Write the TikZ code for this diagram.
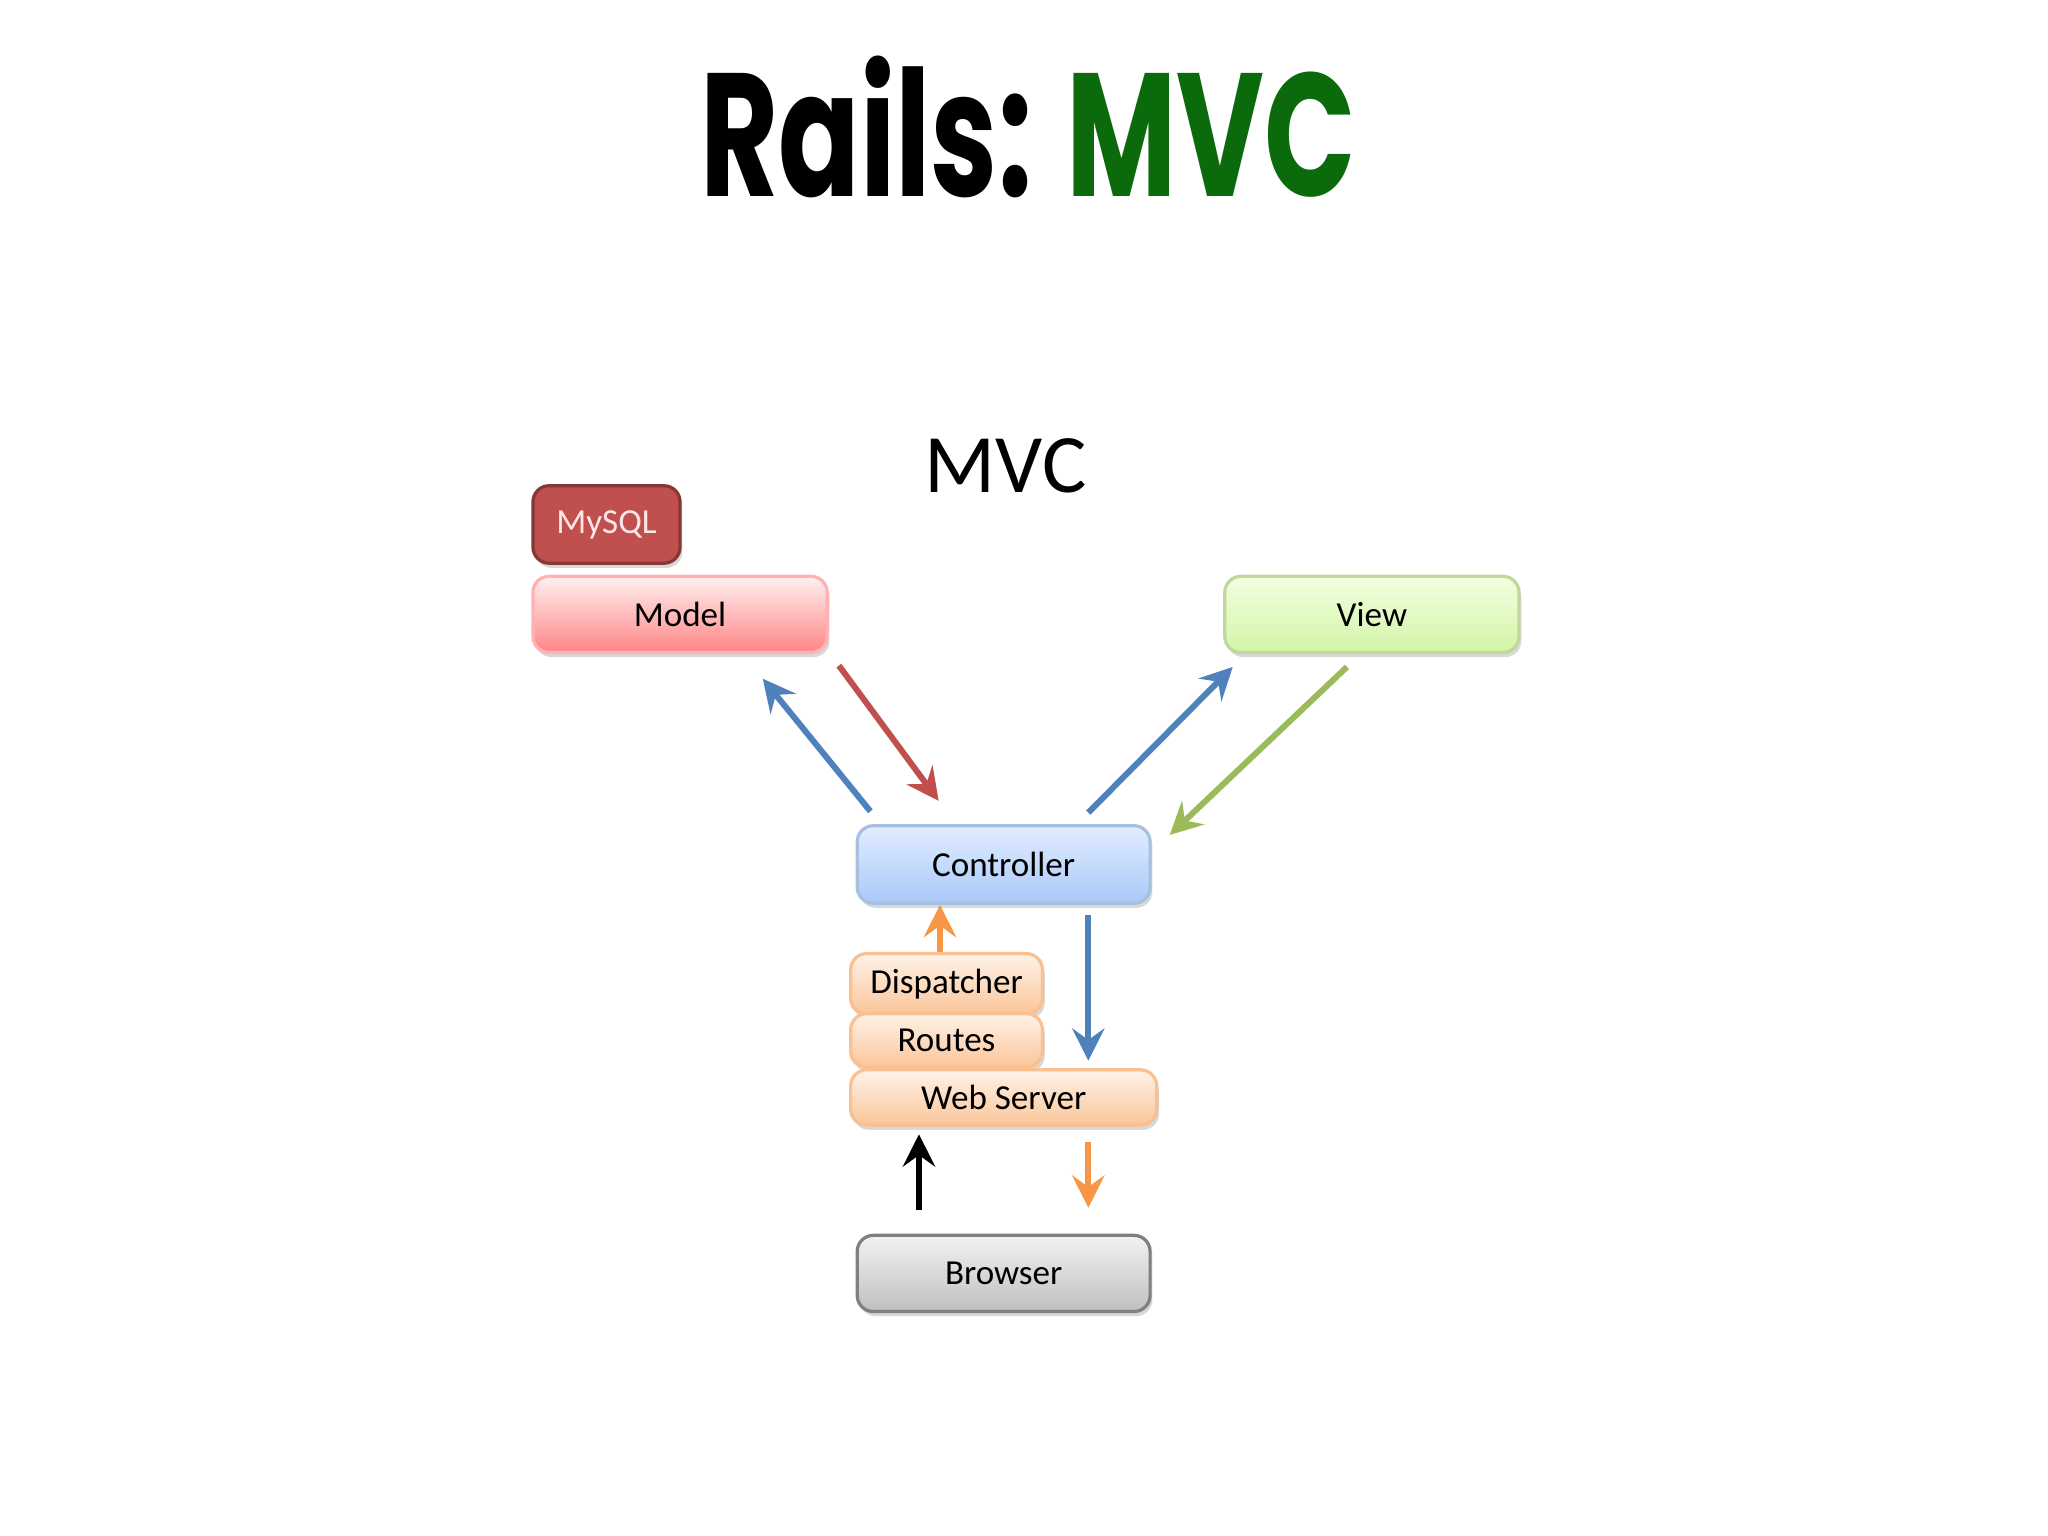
\documentclass[tikz,border=0pt]{standalone}
\usepackage{fontspec}
\setmainfont{Carlito}
\newfontfamily\titlefont{Poppins}
\usetikzlibrary{shadows,arrows.meta}
\definecolor{mysqlc}{HTML}{C0504D}
\definecolor{bluec}{HTML}{4F81BD}
\definecolor{greenc}{HTML}{9BBB59}
\definecolor{orangec}{HTML}{F79646}
\definecolor{viewtop}{HTML}{F2FFE0}
\definecolor{viewbot}{HTML}{D2F5A8}
\definecolor{ctrltop}{HTML}{E2EDFF}
\definecolor{ctrlbot}{HTML}{A9C8FA}
\tikzset{
  box/.style={rounded corners=3.5pt,draw=#1,line width=0.7pt,font=\fontsize{7.6pt}{9pt}\selectfont,drop shadow={shadow xshift=0.5pt,shadow yshift=-1pt,opacity=0.3}},
  arr/.style={line width=1.3pt,-{Stealth[length=7pt,width=7pt,inset=2.5pt]}},
}
\begin{document}
\begin{tikzpicture}[x=0.01cm,y=-0.01cm]
\useasboundingbox (0,0) rectangle (1560,1170);
\fill[white] (0,0) rectangle (1560,1170);
\node[xscale=0.685] (title) at (783,97) {\titlefont\bfseries\fontsize{38pt}{40pt}\selectfont Rails: \textcolor[HTML]{0B6A0B}{MVC}};
\node (sub) at (766,355) {\fontsize{18pt}{20pt}\selectfont MVC};
\node[box=mysqlc!70!black,fill=mysqlc,text=white!90!red,minimum width=1.12cm,minimum height=0.59cm] (mysql) at (462,399.5) {MySQL};
\node[box=red!30,top color=red!6,bottom color=red!30!pink,minimum width=2.24cm,minimum height=0.58cm] (model) at (518,468) {Model};
\node[box=greenc!60,top color=viewtop,bottom color=viewbot,minimum width=2.24cm,minimum height=0.58cm] (view) at (1045,468) {View};
\node[box=bluec!50,top color=ctrltop,bottom color=ctrlbot,minimum width=2.23cm,minimum height=0.59cm] (ctrl) at (764.5,658.5) {Controller};
\node[box=orangec!60,top color=orangec!12,bottom color=orangec!55,minimum width=1.46cm,minimum height=0.34cm] (disp) at (721,749.5) {Dispatcher};
\node[box=orangec!60,top color=orangec!12,bottom color=orangec!55,minimum width=1.46cm,minimum height=0.34cm] (routes) at (721,792.5) {Routes};
\node[box=orangec!60,top color=orangec!12,bottom color=orangec!55,minimum width=2.33cm,minimum height=0.35cm] (web) at (764.5,836) {Web Server};
\node[box=black!50,top color=black!5,bottom color=black!25,minimum width=2.23cm,minimum height=0.58cm] (browser) at (764.5,970) {Browser};
\coordinate (a1) at (663,618); \coordinate (a2) at (581,517);
\coordinate (b1) at (639,507); \coordinate (b2) at (715,610);
\coordinate (c1) at (829,619); \coordinate (c2) at (939,508);
\coordinate (d1) at (1026,508); \coordinate (d2) at (891,636);
\coordinate (e1) at (829,697); \coordinate (e2) at (829,808);
\coordinate (f1) at (700,922); \coordinate (f2) at (700,864);
\coordinate (g1) at (829,870); \coordinate (g2) at (829,920);
\draw[arr,color=bluec] (a1) -- (a2);
\draw[arr,color=mysqlc] (b1) -- (b2);
\draw[arr,color=bluec] (c1) -- (c2);
\draw[arr,color=greenc] (d1) -- (d2);
\draw[arr,color=orangec] (disp.north -| 716,0) -- (ctrl.south -| 716,0);
\draw[arr,color=bluec] (e1) -- (e2);
\draw[arr,color=black] (f1) -- (f2);
\draw[arr,color=orangec] (g1) -- (g2);
\end{tikzpicture}
\end{document}
